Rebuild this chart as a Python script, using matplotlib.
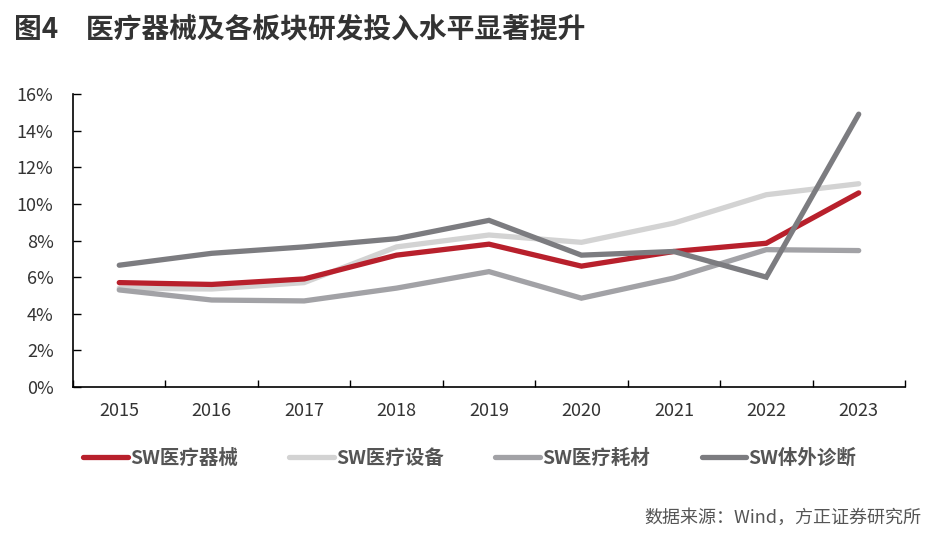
import matplotlib.pyplot as plt
import numpy as np

plt.rcParams['font.family'] = ['Noto Sans CJK SC', 'DejaVu Sans']

years = ['2015', '2016', '2017', '2018', '2019', '2020', '2021', '2022', '2023']
yticks = [0, 2, 4, 6, 8, 10, 12, 14, 16]

# 研发投入占比 (%)
qixie = [5.7, 5.6, 5.9, 7.2, 7.8, 6.6, 7.4, 7.85, 10.6]
shebei = [5.4, 5.35, 5.7, 7.65, 8.3, 7.9, 8.95, 10.5, 11.1]
haocai = [5.3, 4.75, 4.7, 5.4, 6.3, 4.85, 5.95, 7.5, 7.45]
tiwai = [6.65, 7.3, 7.65, 8.1, 9.1, 7.2, 7.4, 6.0, 14.9]

names = ['SW医疗器械', 'SW医疗设备', 'SW医疗耗材', 'SW体外诊断']
colors = ['#B8202C', '#D3D3D3', '#A2A2A6', '#7C7C80']

fig = plt.figure(figsize=(9.4, 5.41), dpi=100)
ax = fig.add_axes([0.0777, 0.2847, 0.885, 0.5415])

x = np.arange(len(years))
# lighter ones first, 体外诊断 on top as in the source
order = [1, 2, 0, 3]
series = [qixie, shebei, haocai, tiwai]
lines = {}
for i in order:
    ln, = ax.plot(x, series[i], color=colors[i], lw=3.8, solid_joinstyle='miter',
                  solid_capstyle='round', label=names[i])
    lines[i] = ln

ax.set_xlim(-0.5, len(years) - 0.5)
ax.set_ylim(0, 16)
ax.set_yticks(yticks)
ax.set_yticklabels([f'{v}%' for v in yticks])
ax.set_xticks(x)
ax.set_xticklabels(years)
ax.set_xticks(np.arange(-0.5, len(years), 1), minor=True)
ax.tick_params(axis='x', which='major', length=0, pad=11, labelsize=13, colors='#333333')
ax.tick_params(axis='x', which='minor', direction='in', length=5, width=1, color='black')
ax.tick_params(axis='y', direction='in', length=6, width=1, color='black',
               labelsize=13, labelcolor='#333333', pad=14)

for s in ['top', 'right']:
    ax.spines[s].set_visible(False)
for s in ['left', 'bottom']:
    ax.spines[s].set_color('black')
    ax.spines[s].set_linewidth(1.2)

leg = fig.legend([lines[i] for i in range(4)], names, loc='center left',
                 bbox_to_anchor=(0.07, 0.153), ncol=4, frameon=False,
                 handlelength=2.3, handletextpad=0.1, columnspacing=2.65,
                 prop={'size': 14, 'weight': 'bold'})
for t in leg.get_texts():
    t.set_color('#555555')

fig.text(0.015, 0.945, '图4　医疗器械及各板块研发投入水平显著提升', fontsize=20,
         fontweight='bold', color='#333333', va='center', ha='left')
fig.text(0.98, 0.042, '数据来源：Wind，方正证券研究所', fontsize=13,
         color='#555555', ha='right', va='center')

fig.savefig('out.png', dpi=100)
